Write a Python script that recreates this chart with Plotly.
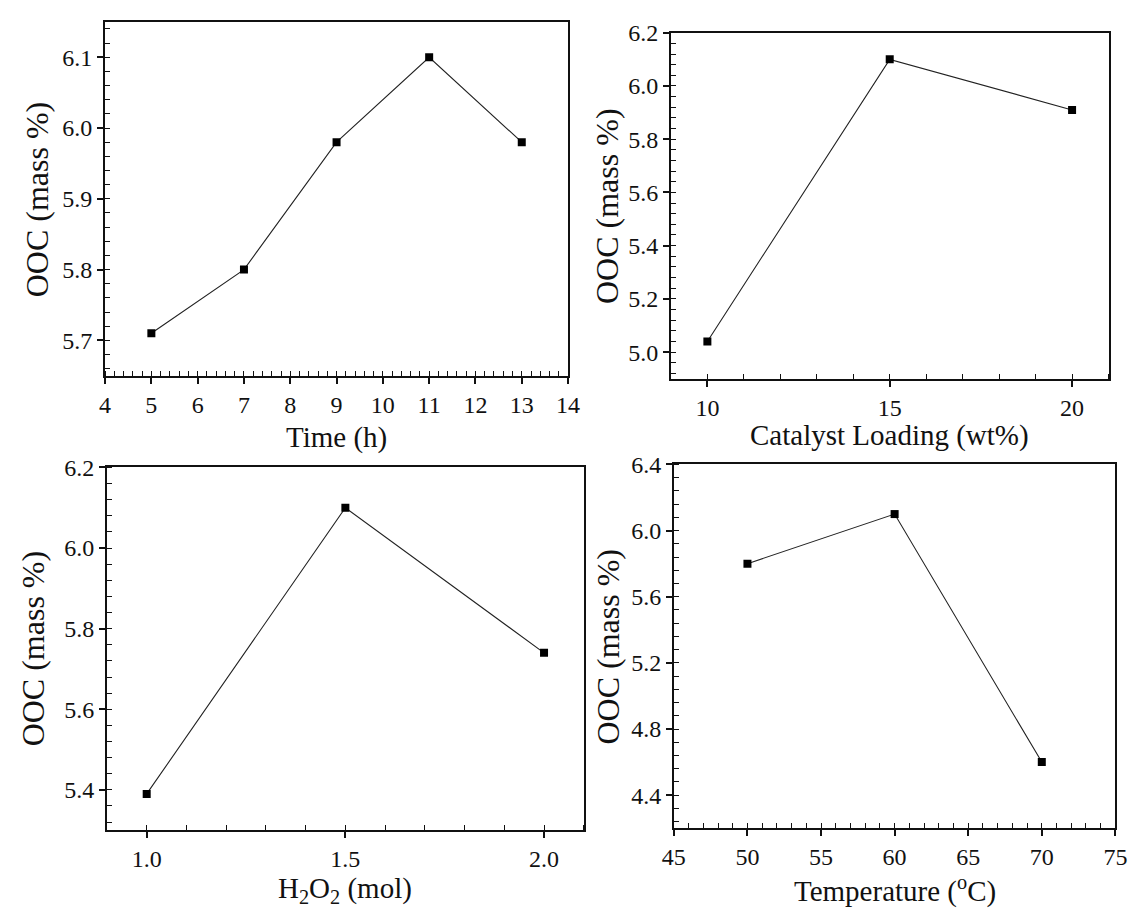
import plotly.graph_objects as go

W, H = 1146, 911

# Data
time_h = [5, 7, 9, 11, 13]
ooc_time = [5.71, 5.80, 5.98, 6.10, 5.98]

catalyst = [10, 15, 20]
ooc_catalyst = [5.04, 6.10, 5.91]

h2o2 = [1.0, 1.5, 2.0]
ooc_h2o2 = [5.39, 6.10, 5.74]

temperature = [50, 60, 70]
ooc_temp = [5.80, 6.10, 4.60]

x_titles = ["Time (h)", "Catalyst Loading (wt%)", "H<sub>2</sub>O<sub>2</sub> (mol)",
            "Temperature (<sup>o</sup>C)"]
y_title = "OOC (mass %)"

FONT = "Liberation Serif"

# panel pixel boxes: (left, right, top, bottom)
boxes = [(95, 568, 9, 368), (673, 1120, 20, 371), (97, 584, 461, 829), (676, 1127, 458, 827)]

series = [(time_h, ooc_time), (catalyst, ooc_catalyst), (h2o2, ooc_h2o2), (temperature, ooc_temp)]

x_cfg = [
    dict(range=[3.999, 14.001], tick0=4, dtick=1, minor_dtick=0.2, fmt=""),
    dict(range=[9, 21], tick0=10, dtick=5, minor_dtick=1, fmt=""),
    dict(range=[0.9, 2.1], tick0=1.0, dtick=0.5, minor_dtick=0.1, fmt=".1f"),
    dict(range=[44.999, 75.001], tick0=45, dtick=5, minor_dtick=1, fmt=""),
]
y_cfg = [
    dict(range=[5.65, 6.15], tick0=5.7, dtick=0.1, minor_dtick=0.02, fmt=".1f"),
    dict(range=[4.9, 6.2001], tick0=5.0, dtick=0.2, minor_dtick=0.04, fmt=".1f"),
    dict(range=[5.3, 6.2001], tick0=5.4, dtick=0.2, minor_dtick=0.04, fmt=".1f"),
    dict(range=[4.2, 6.4001], tick0=4.4, dtick=0.4, minor_dtick=0.08, fmt=".1f"),
]

ytitle_x = [25, 607, 21, 609]
xtitle_y = [431, 429, 890, 889]
x_standoff = [1, 1, 0, 0]

fig = go.Figure()
layout = dict(
    width=W, height=H,
    margin=dict(l=0, r=0, t=0, b=0),
    paper_bgcolor="white", plot_bgcolor="white",
    showlegend=False,
    font=dict(family=FONT, size=24, color="#111"),
)
annotations = []

for i, ((xs, ys), (l, r, t, b), xc, yc) in enumerate(zip(series, boxes, x_cfg, y_cfg)):
    n = "" if i == 0 else str(i + 1)
    fig.add_trace(go.Scatter(
        x=xs, y=ys, mode="lines+markers",
        xaxis="x" + n, yaxis="y" + n,
        line=dict(color="#222", width=1.1),
        marker=dict(symbol="square", size=8, color="black"),
    ))
    tickfont = dict(family=FONT, size=24, color="#111")
    layout["xaxis" + n] = dict(
        showgrid=False, zeroline=False, showline=True, linecolor="#111", linewidth=1.8,
        mirror=True, ticks="outside", ticklen=6, tickwidth=1.5, tickcolor="#111",
        tickfont=tickfont, tickmode="linear",
        domain=[l / W, r / W], anchor="y" + n, range=xc["range"],
        tick0=xc["tick0"], dtick=xc["dtick"], tickformat=xc["fmt"],
        minor=dict(ticks="inside", ticklen=5, tickwidth=1.2, tickcolor="#111",
                   dtick=xc["minor_dtick"], tick0=xc["tick0"]),
        ticklabelstandoff=x_standoff[i],
    )
    layout["yaxis" + n] = dict(
        showgrid=False, zeroline=False, showline=True, linecolor="#111", linewidth=1.8,
        mirror=True, ticks="outside", ticklen=6, tickwidth=1.5, tickcolor="#111",
        tickfont=tickfont, tickmode="linear",
        domain=[1 - b / H, 1 - t / H], anchor="x" + n, range=yc["range"],
        tick0=yc["tick0"], dtick=yc["dtick"], tickformat=yc["fmt"],
        minor=dict(ticks="inside", ticklen=5, tickwidth=1.2, tickcolor="#111",
                   dtick=yc["minor_dtick"], tick0=yc["tick0"]),
    )
    annotations.append(dict(
        text=x_titles[i], xref="paper", yref="paper",
        x=(l + r) / 2 / W, y=1 - xtitle_y[i] / H, xanchor="center", yanchor="middle",
        showarrow=False, font=dict(family=FONT, size=29, color="#111"),
    ))
    annotations.append(dict(
        text=y_title, xref="paper", yref="paper", textangle=-90,
        x=ytitle_x[i] / W, y=1 - (t + b) / 2 / H, xanchor="center", yanchor="middle",
        showarrow=False, font=dict(family=FONT, size=32, color="#111"),
    ))

layout["annotations"] = annotations
fig.update_layout(**layout)
fig.write_html("out.html")
